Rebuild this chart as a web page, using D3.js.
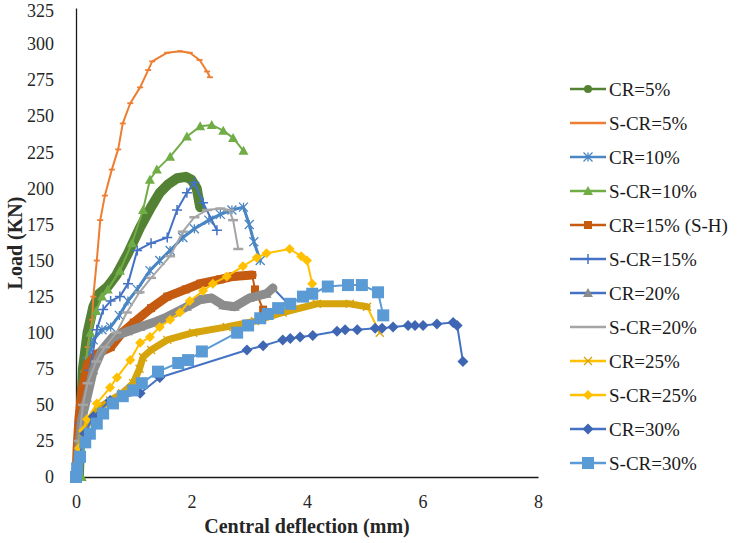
<!DOCTYPE html>
<html>
<head>
<meta charset="utf-8">
<script src="https://cdn.jsdelivr.net/npm/d3@7"></script>
<style>
  body { margin: 0; background: #fff; }
</style>
</head>
<body>
<svg width="742" height="543"></svg>
<script>
// Series names, in legend order
const names = ["CR=5%", "S-CR=5%", "CR=10%", "S-CR=10%", "CR=15% (S-H)", "S-CR=15%",
    "CR=20%", "S-CR=20%", "CR=25%", "S-CR=25%", "CR=30%", "S-CR=30%"];

// [deflection (mm), load (KN)]
const cr5 = [[0.05,0],[0.08,40],[0.12,75],[0.2,100],[0.3,118],[0.4,127],[0.55,132],[0.7,140],[0.9,155],
    [1.11,173],[1.3,187],[1.45,197],[1.6,203],[1.75,207],[1.9,208],[2.0,206],[2.09,200],[2.15,187]];
const scr5 = [[0,0],[0.05,30],[0.12,60],[0.2,90],[0.28,109],[0.3,125],[0.36,150],[0.42,178],[0.5,195],
    [0.62,213],[0.73,227],[0.81,245],[0.94,259],[1.11,270],[1.25,282],[1.32,288],[1.58,294],[1.8,295],
    [1.97,294],[2.14,289],[2.27,281],[2.32,277]];
const cr10 = [[0,0],[0.05,30],[0.12,60],[0.2,80],[0.3,95],[0.45,102],[0.6,104],[0.75,112],[0.9,122],
    [1.06,130],[1.28,143],[1.45,150],[1.63,157],[1.85,166],[2.05,172],[2.3,178],[2.5,182],[2.7,185],
    [2.9,187],[3.0,175],[3.08,163],[3.19,150]];
const scr10 = [[0.1,0],[0.1,40],[0.15,75],[0.25,100],[0.35,115],[0.45,125],[0.55,130],[0.76,143],
    [0.97,162],[1.16,185],[1.28,206],[1.4,213],[1.63,222],[1.92,236],[2.15,243],[2.35,244],[2.55,240],
    [2.72,235],[2.9,226]];
const cr15 = [[0,0],[0.02,20],[0.05,40],[0.1,60],[0.2,78],[0.35,85],[0.6,90],[0.8,100],[1.0,107],
    [1.3,117],[1.58,125],[1.9,130],[2.15,134],[2.5,137],[2.72,139],[3.05,140],[3.1,130],[3.24,116]];
const scr15 = [[0,0],[0.07,37],[0.24,74],[0.36,102],[0.47,116],[0.6,122],[0.76,125],[0.9,134],
    [1.06,157],[1.3,162],[1.58,166],[1.75,185],[1.92,197],[2.05,204],[2.2,190],[2.44,171]];
const cr20 = [[0,0],[0.05,20],[0.1,40],[0.19,55],[0.3,74],[0.45,88],[0.64,97],[0.9,101],[1.11,104],
    [1.4,108],[1.58,111],[1.92,118],[2.15,123],[2.35,124],[2.55,119],[2.75,118],[3.0,124],[3.3,127],
    [3.41,131],[3.65,121]];
const scr20 = [[0,0],[0.05,25],[0.12,50],[0.2,65],[0.35,80],[0.5,90],[0.7,100],[0.88,114],[1.1,128],
    [1.3,138],[1.63,153],[1.85,170],[2.05,180],[2.27,185],[2.5,186],[2.65,185],[2.72,178],[2.81,158]];
const cr25 = [[0,0],[0.05,15],[0.12,30],[0.24,40],[0.4,48],[0.59,53],[0.8,58],[0.99,65],[1.1,75],
    [1.16,83],[1.3,88],[1.58,95],[2.03,100],[2.61,104],[3.1,108],[3.58,114],[4.17,120],[4.74,120],
    [5.04,118],[5.26,100]];
const scr25 = [[0,0],[0.05,20],[0.12,32],[0.19,40],[0.36,51],[0.59,62],[0.71,69],[0.94,81],[1.11,93],
    [1.28,97],[1.45,104],[1.63,109],[1.8,114],[1.97,122],[2.2,129],[2.37,134],[2.61,139],[2.89,146],
    [3.13,152],[3.3,155],[3.7,158],[3.9,153],[4.0,150],[4.09,134]];
const cr30 = [[0,0],[0.05,12],[0.15,30],[0.3,42],[0.59,53],[1.11,58],[1.45,69],[2.96,88],[3.24,91],
    [3.58,95],[3.71,96],[3.88,97],[4.1,98],[4.52,101],[4.66,102],[4.87,102],[5.18,103],[5.3,103],
    [5.49,104],[5.75,105],[5.87,105],[6.01,105],[6.25,106],[6.53,107],[6.6,105],[6.7,80]];
const scr30 = [[0,0],[0.02,6],[0.07,14],[0.16,24],[0.24,30],[0.36,37],[0.47,44],[0.64,51],[0.81,56],
    [0.99,60],[1.14,65],[1.42,73],[1.77,79],[1.94,81],[2.18,87],[2.79,100],[2.98,105],[3.19,110],
    [3.32,113],[3.5,117],[3.71,120],[3.93,125],[4.09,127],[4.36,132],[4.71,133],[4.95,133],[5.23,128],
    [5.32,112]];

const seriesData = [cr5, scr5, cr10, scr10, cr15, scr15, cr20, scr20, cr25, scr25, cr30, scr30];

// Tick labels
const xTicks = [0, 2, 4, 6, 8];
const yTicks = [0, 25, 50, 75, 100, 125, 150, 175, 200, 225, 250, 275, 300, 325];

// Look of each series: line colour, width of the dense-marker band, marker
const styles = {
    "CR=5%":        { line: "#548235", band: 10, bandCut: 0, marker: "circle",   fill: "#548235", size: 4 },
    "S-CR=5%":      { line: "#ED7D31", band: 0, marker: "dash",     fill: "#ED7D31", size: 3 },
    "CR=10%":       { line: "#4A86C3", band: 3, bandCut: 0, marker: "asterisk", fill: "#4A86C3", size: 4.5 },
    "S-CR=10%":     { line: "#70AD47", band: 0, marker: "triangle", fill: "#70AD47", size: 5 },
    "CR=15% (S-H)": { line: "#C55A11", band: 9, bandCut: 2, marker: "square",   fill: "#C55A11", size: 4 },
    "S-CR=15%":     { line: "#4472C4", band: 0, marker: "plus",     fill: "#4472C4", size: 5 },
    "CR=20%":       { line: "#4472C4", band: 9, bandCut: 1, marker: "triangle", fill: "#8C8C8C", size: 5, bandColor: "#8C8C8C" },
    "S-CR=20%":     { line: "#A5A5A5", band: 0, marker: "wdash",    fill: "#A5A5A5", size: 5 },
    "CR=25%":       { line: "#FFC000", band: 7, bandCut: 1, marker: "x",        fill: "#D4A20A", size: 4, bandColor: "#D6A40C" },
    "S-CR=25%":     { line: "#FFC000", band: 0, marker: "diamond",  fill: "#FFC000", size: 5 },
    "CR=30%":       { line: "#4472C4", band: 0, marker: "diamond",  fill: "#3F66B3", size: 5.5 },
    "S-CR=30%":     { line: "#5B9BD5", band: 0, marker: "square",   fill: "#5B9BD5", size: 6 }
};

const serif = "'Liberation Serif', 'DejaVu Serif', serif";

const svg = d3.select("svg"),
    width = +svg.attr("width"),
    height = +svg.attr("height");

const x = d3.scaleLinear().domain([0, 8]).range([76, 538]);
const y = d3.scaleLinear().domain([0, 325]).range([477, 8]);

// Axes
const yAxis = svg.append("g")
    .attr("transform", "translate(76,0)")
    .call(d3.axisLeft(y).tickValues(yTicks).tickSize(0).tickSizeOuter(0).tickPadding(22));
const xAxis = svg.append("g")
    .attr("transform", "translate(0,477)")
    .call(d3.axisBottom(x).tickValues(xTicks).tickSize(0).tickSizeOuter(0).tickPadding(18));
[yAxis, xAxis].forEach(function(g) {
    g.attr("font-family", serif).attr("font-size", 18);
    g.select(".domain").attr("stroke", "#1a1a1a").attr("stroke-width", 1.3);
    g.selectAll("text").attr("font-family", serif).attr("font-size", 18).attr("fill", "#262626");
});
yAxis.selectAll("text").filter(d => d === 325).attr("dy", "0.45em");

// Axis titles
svg.append("text")
    .attr("x", 307).attr("y", 533)
    .attr("text-anchor", "middle")
    .attr("font-family", serif)
    .attr("font-size", 20).attr("font-weight", "bold").attr("fill", "#262626")
    .text("Central deflection (mm)");
svg.append("text")
    .attr("transform", "translate(22,243) rotate(-90)")
    .attr("text-anchor", "middle")
    .attr("font-family", serif)
    .attr("font-size", 20).attr("font-weight", "bold").attr("fill", "#262626")
    .text("Load (KN)");

// Marker drawing
function drawMarker(g, type, cx, cy, s, color) {
    if (type === "circle") {
        g.append("circle").attr("cx", cx).attr("cy", cy).attr("r", s).attr("fill", color);
    } else if (type === "square") {
        g.append("rect").attr("x", cx - s).attr("y", cy - s).attr("width", 2 * s).attr("height", 2 * s).attr("fill", color);
    } else if (type === "triangle") {
        g.append("path").attr("d", `M${cx},${cy - s}L${cx + s},${cy + s * 0.8}L${cx - s},${cy + s * 0.8}Z`).attr("fill", color);
    } else if (type === "diamond") {
        g.append("path").attr("d", `M${cx},${cy - s}L${cx + s},${cy}L${cx},${cy + s}L${cx - s},${cy}Z`).attr("fill", color);
    } else if (type === "plus") {
        g.append("path").attr("d", `M${cx - s},${cy}H${cx + s}M${cx},${cy - s}V${cy + s}`)
            .attr("stroke", color).attr("stroke-width", 1.5).attr("fill", "none");
    } else if (type === "x") {
        g.append("path").attr("d", `M${cx - s},${cy - s}L${cx + s},${cy + s}M${cx + s},${cy - s}L${cx - s},${cy + s}`)
            .attr("stroke", color).attr("stroke-width", 1.3).attr("fill", "none");
    } else if (type === "asterisk") {
        g.append("path").attr("d", `M${cx - s},${cy - s}L${cx + s},${cy + s}M${cx + s},${cy - s}L${cx - s},${cy + s}M${cx},${cy - s}V${cy + s}`)
            .attr("stroke", color).attr("stroke-width", 1.3).attr("fill", "none");
    } else if (type === "dash" || type === "wdash") {
        g.append("path").attr("d", `M${cx - s},${cy}H${cx + s}`)
            .attr("stroke", color).attr("stroke-width", type === "wdash" ? 2.5 : 1.8).attr("fill", "none");
    }
}

const line = d3.line().x(d => x(d[0])).y(d => y(d[1]));

// Series, first one at the bottom as in Excel
names.forEach(function(name, i) {
    const st = styles[name];
    const data = seriesData[i];
    const g = svg.append("g");
    g.append("path").attr("d", line(data))
        .attr("fill", "none").attr("stroke", st.line).attr("stroke-width", 2)
        .attr("stroke-linejoin", "round");
    if (st.band) {
        // dense markers in the source chart merge into a thick band
        g.append("path").attr("d", line(data.slice(0, data.length - st.bandCut)))
            .attr("fill", "none").attr("stroke", st.bandColor || st.line)
            .attr("stroke-width", st.band).attr("stroke-linejoin", "round").attr("stroke-linecap", "round");
    }
    data.forEach(function(d) {
        drawMarker(g, st.marker, x(d[0]), y(d[1]), st.size, st.fill);
    });
});

// Legend
const legend = svg.append("g");
names.forEach(function(name, i) {
    const st = styles[name];
    const ly = 89 + i * 34;
    legend.append("line").attr("x1", 570).attr("x2", 606).attr("y1", ly).attr("y2", ly)
        .attr("stroke", st.line).attr("stroke-width", 2.5);
    if (name !== "S-CR=5%" && name !== "S-CR=20%") {
        drawMarker(legend, st.marker, 588, ly, st.size, st.fill);
    }
    legend.append("text").attr("x", 609).attr("y", ly).attr("dy", "0.35em")
        .attr("font-family", serif)
        .attr("font-size", 19).attr("fill", "#1a1a1a")
        .text(name);
});
</script>
</body>
</html>
